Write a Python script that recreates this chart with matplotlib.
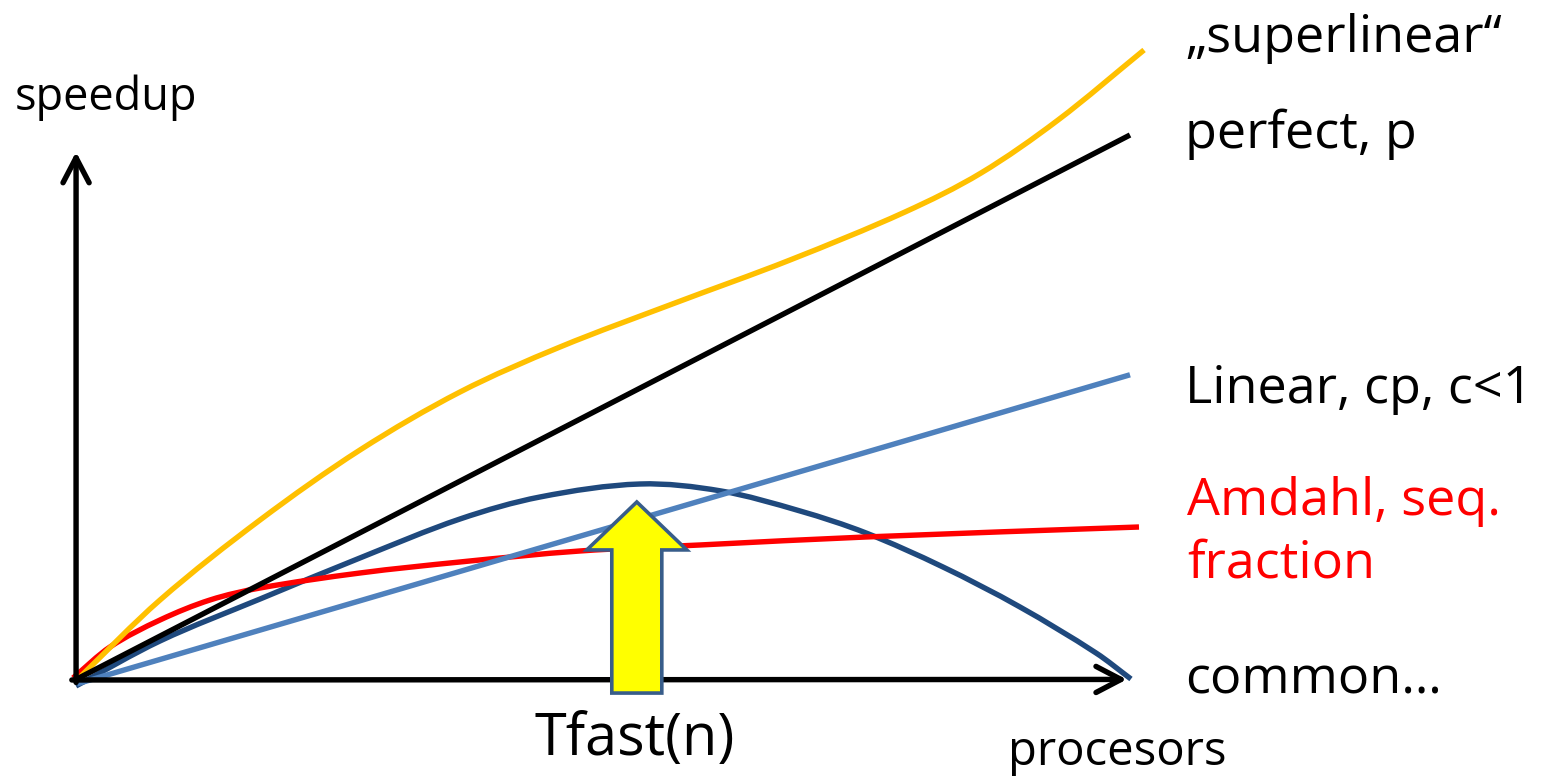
import matplotlib
matplotlib.use("Agg")
import numpy as np
import matplotlib.pyplot as plt
from matplotlib.patches import FancyArrow, PathPatch
from matplotlib.path import Path

# Speedup curves: number of processors (x) against speedup (y)
perfect_p = [0, 100]
perfect_s = [0, 100]

linear_p = [0.2, 100.0]
linear_s = [-0.7, 56.0]

super_p = [0.28, 8.06, 17.54, 27.01, 36.49, 45.97, 56.87, 67.77, 78.67, 85.88, 93.18, 101.33]
super_s = [0.18, 14.68, 29.36, 42.20, 52.84, 61.10, 69.17, 77.06, 85.87, 93.03, 102.75, 115.60]

amdahl_p = [-0.19, 3.32, 8.06, 12.80, 17.54, 27.01, 36.49, 47.87, 59.24, 74.98, 100.85]
amdahl_s = [0.37, 6.06, 11.01, 14.68, 16.88, 19.63, 21.65, 23.67, 24.77, 26.24, 28.07]

common_p = [0.09, 8.06, 17.54, 27.01, 36.49, 44.08, 53.55, 61.23, 68.72, 74.98, 82.27, 89.57, 96.78, 100.09]
common_s = [-1.10, 7.16, 14.86, 22.39, 29.54, 33.58, 35.96, 34.68, 31.01, 26.97, 20.73, 13.39, 4.95, 0.18]

labels = ["\u201esuperlinear\u201c", "perfect, p", "Linear, cp, c<1",
          "Amdahl, seq.\nfraction", "common\u2026"]

W, H = 1542, 779
plt.rcParams["font.family"] = ["Open Sans", "DejaVu Sans"]

fig = plt.figure(figsize=(W / 100, H / 100), dpi=100)
ax = fig.add_axes([0, 0, 1, 1])
ax.set_xlim(-7.11, 139.05)
ax.set_ylim(-18.17, 124.77)
ax.axis("off")


def smooth_path(xs, ys):
    """Cubic Hermite path (parametrised by x) through every given point."""
    x = np.asarray(xs, float)
    y = np.asarray(ys, float)
    n = len(x)
    m = np.empty(n)
    m[0] = (y[1] - y[0]) / (x[1] - x[0])
    m[-1] = (y[-1] - y[-2]) / (x[-1] - x[-2])
    m[1:-1] = (y[2:] - y[:-2]) / (x[2:] - x[:-2])
    verts = [(x[0], y[0])]
    codes = [Path.MOVETO]
    for i in range(n - 1):
        h = (x[i + 1] - x[i]) / 3.0
        verts += [(x[i] + h, y[i] + m[i] * h),
                  (x[i + 1] - h, y[i + 1] - m[i + 1] * h),
                  (x[i + 1], y[i + 1])]
        codes += [Path.CURVE4] * 3
    return Path(verts, codes)


def curve(xs, ys, color, lw):
    ax.add_patch(PathPatch(smooth_path(xs, ys), fill=False, ec=color,
                           lw=lw, capstyle="butt", joinstyle="round"))


axis_arrow = dict(arrowstyle="->,head_length=1.8,head_width=0.94",
                  lw=3.9, color="black", shrinkA=0, shrinkB=0,
                  mutation_scale=10)
ax.annotate("", xy=(0.1, 96.9), xytext=(0.1, -0.45), arrowprops=axis_arrow)
ax.annotate("", xy=(99.7, 0.1), xytext=(-0.3, 0.0), arrowprops=axis_arrow)

lw = 3.9
ax.plot(linear_p, linear_s, color="#4F81BD", lw=lw, solid_capstyle="butt")
curve(common_p, common_s, "#1F497D", lw)
ax.plot(perfect_p, perfect_s, color="black", lw=lw, solid_capstyle="butt")
curve(amdahl_p, amdahl_s, "#FF0000", lw)
curve(super_p, super_s, "#FFC000", lw)

# Arrow pointing at the peak of the common curve
i_peak = int(np.argmax(common_s))
peak_p, peak_s = common_p[i_peak], common_s[i_peak]
tip = peak_s - 3.3
base = -2.4
ax.add_patch(FancyArrow(peak_p - 0.3, base, 0, tip - base, width=4.74,
                        head_width=9.48, head_length=8.8,
                        length_includes_head=True, fc="#FFFF00",
                        ec="#385D8A", lw=2.6, zorder=10,
                        joinstyle="miter"))
ax.text(peak_p - 0.5, -13.8, "Tfast(n)", ha="center", va="baseline",
        fontsize=41.5, color="black")


def place(x, y, s, **kw):
    fig.text(x / W, 1 - y / H, s, va="baseline", **kw)


big = 37.5
place(1185, 52, labels[0], fontsize=big)
place(1185, 148, labels[1], fontsize=big)
place(1185, 403, labels[2], fontsize=big)
amdahl_lines = labels[3].split("\n")
place(1187, 515, amdahl_lines[0], fontsize=big, color="#FF0000")
place(1187, 578, amdahl_lines[1], fontsize=big, color="#FF0000")
place(1185, 693, labels[4], fontsize=big)
place(15, 110, "speedup", fontsize=32.5)
place(1008, 765, "procesors", fontsize=34)

fig.savefig("out.png", dpi=100, facecolor="white")
